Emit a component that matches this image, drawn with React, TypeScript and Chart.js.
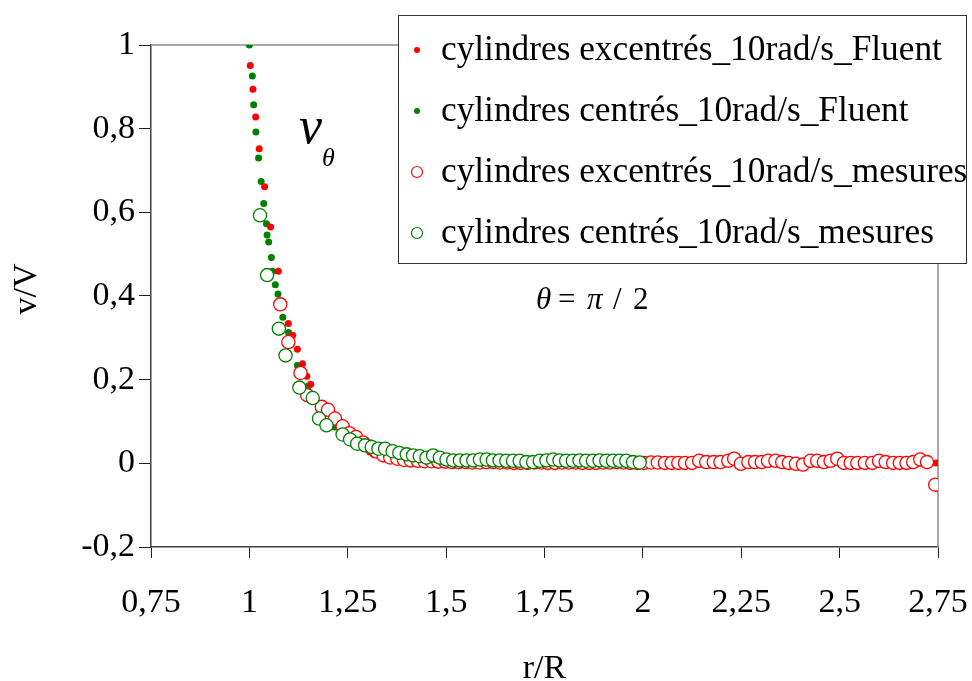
import { useEffect, useRef } from "react";
import { Chart, registerables } from "chart.js";

Chart.register(...registerables);

const SERIF = "'Liberation Serif', 'Times New Roman', serif";

// Axis ticks
const xTicks = [0.75, 1, 1.25, 1.5, 1.75, 2, 2.25, 2.5, 2.75];
const yTicks = [-0.2, 0, 0.2, 0.4, 0.6, 0.8, 1];

// Series labels
const seriesLabels = [
  "cylindres excentrés_10rad/s_Fluent",
  "cylindres centrés_10rad/s_Fluent",
  "cylindres excentrés_10rad/s_mesures",
  "cylindres centrés_10rad/s_mesures",
];

// Eccentric cylinders, Fluent simulation
const excFluentR = [
  1.0023, 1.0091, 1.016, 1.025, 1.0387, 1.054, 1.0735, 1.099, 1.11, 1.122,
  1.135, 1.146, 1.156, 1.2, 1.237, 1.27, 1.306, 1.315, 1.35, 1.4, 1.45, 1.5,
  1.55, 1.6, 1.65, 1.7, 1.75, 1.8, 1.85, 1.9, 1.95, 2.0, 2.05, 2.1, 2.15, 2.2,
  2.25, 2.3, 2.35, 2.4, 2.45, 2.5, 2.55, 2.6, 2.65, 2.7, 2.745,
];
const excFluentV = [
  0.951, 0.894, 0.828, 0.752, 0.661, 0.565, 0.459, 0.334, 0.306, 0.273,
  0.238, 0.208, 0.189, 0.125, 0.085, 0.06, 0.027, 0.0215, 0.012, 0.006, 0.003,
  0.001, 0.0, -0.001, -0.002, -0.002, -0.002, -0.002, -0.001, -0.001, 0.0,
  0.0, 0.0, 0.0, 0.0, 0.0, 0.0, 0.0, 0.0, 0.0, 0.0, 0.0, 0.0, 0.0, 0.0, 0.0,
  0.001,
];

// Centred cylinders, Fluent simulation
const cenFluentR = [
  1.0, 1.0076, 1.0109, 1.0165, 1.0234, 1.03, 1.0366, 1.0435, 1.045, 1.049,
  1.056, 1.059, 1.066, 1.0727, 1.085, 1.0997, 1.122, 1.15, 1.217, 1.256,
  1.294, 1.345, 1.4, 1.45, 1.501, 1.552, 1.603, 1.653, 1.704, 1.755, 1.805,
  1.856, 1.907, 1.958,
];
const cenFluentV = [
  1.0, 0.926, 0.857, 0.792, 0.73, 0.674, 0.621, 0.573, 0.546, 0.529, 0.492,
  0.459, 0.427, 0.405, 0.349, 0.313, 0.234, 0.185, 0.087, 0.057, 0.043,
  0.035, 0.0215, 0.0136, 0.009, 0.007, 0.009, 0.006, 0.003, 0.009, 0.006,
  0.006, 0.006, 0.006,
];

// Eccentric cylinders, measurements
const excMesR = [
  1.0785, 1.099, 1.13, 1.147, 1.184, 1.2, 1.2175, 1.237, 1.254, 1.271, 1.289,
  1.306, 1.323, 1.341, 1.358, 1.376, 1.393, 1.41, 1.428, 1.445, 1.463, 1.48,
  1.498, 1.515, 1.532, 1.55, 1.567, 1.585, 1.602, 1.62, 1.637, 1.655, 1.672,
  1.689, 1.707, 1.724, 1.742, 1.759, 1.777, 1.794, 1.811, 1.829, 1.846, 1.864,
  1.881, 1.899, 1.916, 1.934, 1.951, 1.968, 1.986, 2.003, 2.021, 2.038, 2.056,
  2.073, 2.09, 2.107, 2.125, 2.143, 2.161, 2.18, 2.197, 2.217, 2.232, 2.249,
  2.268, 2.285, 2.302, 2.318, 2.337, 2.354, 2.371, 2.389, 2.407, 2.426, 2.443,
  2.46, 2.477, 2.494, 2.511, 2.528, 2.545, 2.564, 2.583, 2.6, 2.617, 2.636,
  2.653, 2.67, 2.687, 2.705, 2.722, 2.743,
];
const excMesV = [
  0.38, 0.29, 0.216, 0.163, 0.135, 0.128, 0.107, 0.0885, 0.072, 0.063, 0.05,
  0.04, 0.028, 0.019, 0.014, 0.011, 0.008, 0.007, 0.006, 0.005, 0.005, 0.004,
  0.004, 0.003, 0.003, 0.003, 0.002, 0.002, 0.003, 0.003, 0.002, 0.002, 0.001,
  0.001, 0.001, 0.002, 0.002, 0.001, 0.001, 0.002, 0.002, 0.002, 0.001, 0.001,
  0.001, 0.002, 0.002, 0.003, 0.002, 0.001, 0.001, 0.001, 0.002, 0.002, 0.001,
  0.001, 0.001, 0.001, 0.001, 0.006, 0.003, 0.003, 0.003, 0.006, 0.011,
  -0.001, 0.003, 0.003, 0.003, 0.006, 0.006, 0.003, 0.001, -0.001, -0.003,
  0.006, 0.006, 0.003, 0.006, 0.011, 0.001, 0.001, 0.001, 0.001, 0.001, 0.006,
  0.003, 0.001, 0.001, 0.001, 0.003, 0.009, 0.003, -0.051,
];

// Centred cylinders, measurements
const cenMesR = [
  1.027, 1.045, 1.075, 1.092, 1.127, 1.161, 1.177, 1.196, 1.237, 1.256, 1.274,
  1.294, 1.311, 1.328, 1.345, 1.364, 1.381, 1.4, 1.416, 1.433, 1.45, 1.467,
  1.484, 1.501, 1.518, 1.535, 1.552, 1.569, 1.586, 1.603, 1.619, 1.636, 1.653,
  1.67, 1.687, 1.704, 1.721, 1.738, 1.755, 1.772, 1.788, 1.805, 1.822, 1.839,
  1.856, 1.873, 1.89, 1.907, 1.924, 1.941, 1.958, 1.975, 1.992,
];
const cenMesV = [
  0.593, 0.45, 0.322, 0.258, 0.181, 0.156, 0.107, 0.091, 0.069, 0.057, 0.047,
  0.043, 0.039, 0.035, 0.035, 0.029, 0.025, 0.0215, 0.019, 0.017, 0.0136,
  0.019, 0.0136, 0.009, 0.007, 0.007, 0.007, 0.007, 0.009, 0.009, 0.007,
  0.007, 0.006, 0.006, 0.006, 0.003, 0.003, 0.006, 0.007, 0.009, 0.007, 0.006,
  0.006, 0.007, 0.006, 0.006, 0.007, 0.006, 0.006, 0.006, 0.006, 0.003, 0.002,
];

const RED = "#ff0000";
const GREEN = "#008000";

const toPoints = (xs: number[], ys: number[]) =>
  xs.map((x, i) => ({ x, y: ys[i] }));

const fmt = (v: number) => String(Math.round(v * 100) / 100).replace(".", ",");

const decorPlugin = {
  id: "decor",
  beforeDatasetsDraw(chart: any) {
    const { ctx, chartArea: a } = chart;
    ctx.save();
    ctx.strokeStyle = "#8c8c8c";
    ctx.lineWidth = 1.5;
    ctx.beginPath();
    ctx.moveTo(a.left, a.top);
    ctx.lineTo(a.right, a.top);
    ctx.lineTo(a.right, a.bottom);
    ctx.stroke();
    ctx.restore();
  },
  afterDraw(chart: any) {
    const { ctx, chartArea: a } = chart;
    ctx.save();

    // Axis titles
    ctx.fillStyle = "#000";
    ctx.font = `34px ${SERIF}`;
    ctx.textAlign = "center";
    ctx.textBaseline = "alphabetic";
    ctx.fillText("r/R", (a.left + a.right) / 2, 678);
    ctx.save();
    ctx.translate(36, 289);
    ctx.rotate(-Math.PI / 2);
    ctx.fillText("v/V", 0, 0);
    ctx.restore();

    // v_theta label
    ctx.textAlign = "left";
    ctx.font = `italic 52px ${SERIF}`;
    ctx.fillText("v", 299, 143);
    ctx.font = `italic 26px ${SERIF}`;
    ctx.fillText("θ", 322, 166);

    // theta = pi / 2
    ctx.font = `italic 31px ${SERIF}`;
    ctx.fillText("θ", 536, 309);
    ctx.font = `31px ${SERIF}`;
    ctx.fillText("=", 558, 309);
    ctx.font = `italic 31px ${SERIF}`;
    ctx.fillText("π", 587, 309);
    ctx.font = `31px ${SERIF}`;
    ctx.fillText("/", 613, 309);
    ctx.fillText("2", 633, 309);

    // Legend box
    const bx = 398.5, by = 15.5, bw = 568, bh = 248;
    ctx.fillStyle = "#fff";
    ctx.fillRect(bx, by, bw, bh);
    ctx.strokeStyle = "#333";
    ctx.lineWidth = 1;
    ctx.strokeRect(bx, by, bw, bh);
    const rowY = [50, 111, 172, 233];
    chart.data.datasets.forEach((ds: any) => {
      const y = rowY[ds.legendIndex];
      ctx.beginPath();
      if (ds.filled) {
        ctx.fillStyle = ds.backgroundColor;
        ctx.arc(417, y, 3, 0, Math.PI * 2);
        ctx.fill();
      } else {
        ctx.fillStyle = "#fff";
        ctx.strokeStyle = ds.borderColor;
        ctx.lineWidth = 1.2;
        ctx.arc(417, y, 5.5, 0, Math.PI * 2);
        ctx.fill();
        ctx.stroke();
      }
      ctx.fillStyle = "#000";
      ctx.font = `35.3px ${SERIF}`;
      ctx.textAlign = "left";
      ctx.textBaseline = "middle";
      ctx.fillText(ds.label, 441, y + 1);
    });
    ctx.restore();
  },
};

export default function App() {
  const canvasRef = useRef<HTMLCanvasElement | null>(null);

  useEffect(() => {
    if (!canvasRef.current) return;
    const filledDs = (label: string, color: string, xs: number[], ys: number[], order: number, legendIndex: number) => ({
      label,
      data: toPoints(xs, ys),
      backgroundColor: color,
      borderColor: color,
      borderWidth: 0,
      pointRadius: 3.5,
      pointHoverRadius: 3.5,
      showLine: false,
      order,
      filled: true,
      legendIndex,
    });
    const openDs = (label: string, color: string, xs: number[], ys: number[], order: number, legendIndex: number) => ({
      label,
      data: toPoints(xs, ys),
      backgroundColor: "#ffffff",
      borderColor: color,
      borderWidth: 1.3,
      pointRadius: 6.6,
      pointHoverRadius: 6.6,
      showLine: false,
      order,
      filled: false,
      legendIndex,
    });

    const chart = new Chart(canvasRef.current, {
      type: "scatter",
      data: {
        datasets: [
          openDs(seriesLabels[3], GREEN, cenMesR, cenMesV, 0, 3),
          openDs(seriesLabels[2], RED, excMesR, excMesV, 1, 2),
          filledDs(seriesLabels[0], RED, excFluentR, excFluentV, 2, 0),
          filledDs(seriesLabels[1], GREEN, cenFluentR, cenFluentV, 3, 1),
        ] as any,
      },
      options: {
        animation: false,
        responsive: false,
        events: [],
        layout: { padding: { top: 45, right: 34, left: 0, bottom: 0 } },
        plugins: {
          legend: { display: false },
          tooltip: { enabled: false },
        },
        scales: {
          x: {
            type: "linear",
            min: 0.75,
            max: 2.75,
            afterBuildTicks: (s: any) => {
              s.ticks = xTicks.map((value) => ({ value }));
            },
            afterFit: (s: any) => {
              s.height = 134;
              s.paddingLeft = 0;
              s.paddingRight = 0;
            },
            border: { display: true, color: "#404040", width: 1.5 },
            grid: {
              drawOnChartArea: false,
              drawTicks: true,
              tickLength: 11,
              tickColor: "#202020",
              tickWidth: 1,
            },
            ticks: {
              color: "#000",
              padding: 25,
              maxRotation: 0,
              font: { family: SERIF, size: 34 },
              callback: (v: any) => fmt(Number(v)),
            },
          },
          y: {
            type: "linear",
            min: -0.2,
            max: 1,
            afterBuildTicks: (s: any) => {
              s.ticks = yTicks.map((value) => ({ value }));
            },
            afterFit: (s: any) => {
              s.width = 151;
              s.paddingTop = 0;
              s.paddingBottom = 0;
            },
            border: { display: true, color: "#404040", width: 1.5 },
            grid: {
              drawOnChartArea: false,
              drawTicks: true,
              tickLength: 12,
              tickColor: "#202020",
              tickWidth: 1,
            },
            ticks: {
              color: "#000",
              padding: 4,
              font: { family: SERIF, size: 34 },
              callback: (v: any) => fmt(Number(v)),
            },
          },
        },
      },
      plugins: [decorPlugin],
    });
    return () => chart.destroy();
  }, []);

  return (
    <div
      style={{
        position: "fixed",
        left: 0,
        top: 0,
        width: 972,
        height: 681,
        background: "#fff",
      }}
    >
      <canvas ref={canvasRef} width={972} height={681} style={{ width: 972, height: 681, display: "block" }} />
    </div>
  );
}
